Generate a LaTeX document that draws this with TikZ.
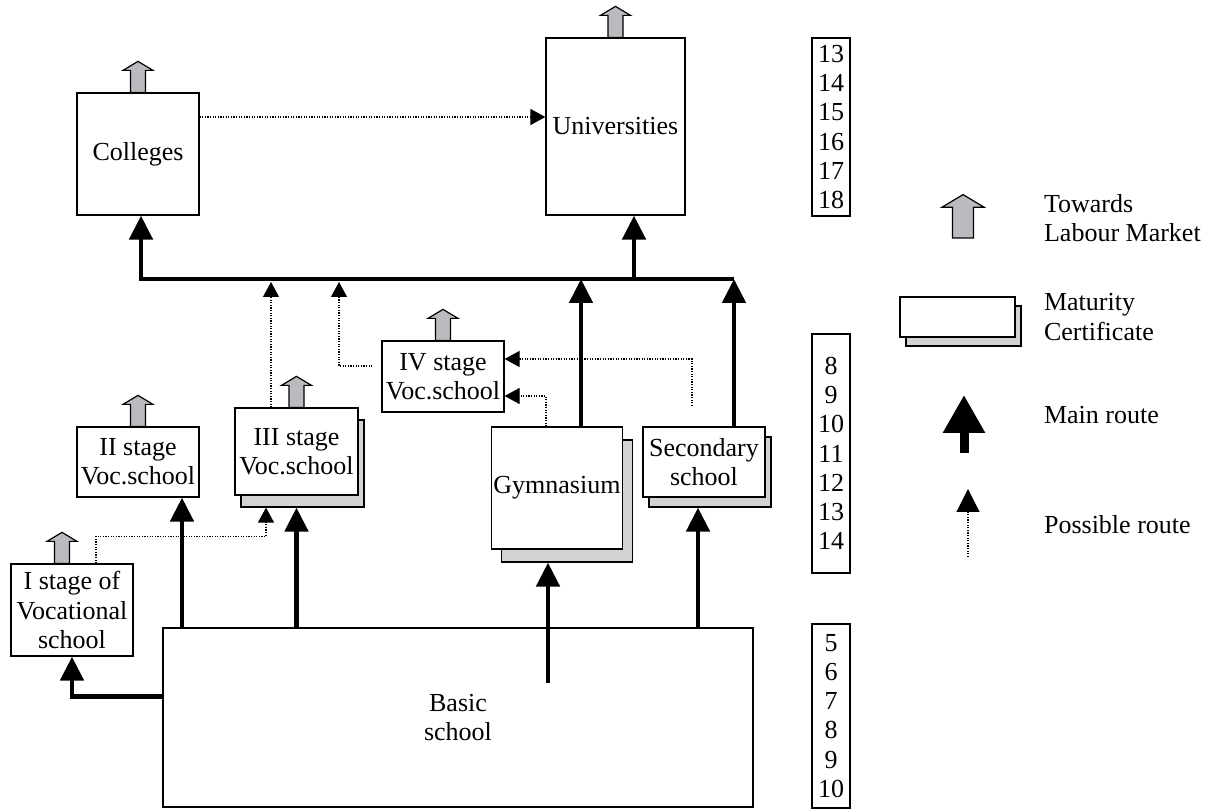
\documentclass[tikz,border=0pt]{standalone}
\usepackage{fontspec}
\setmainfont{Liberation Serif}
\usepackage{tikz}
\usetikzlibrary{calc,positioning,arrows.meta,shadows}

\definecolor{marketgrey}{HTML}{B9BBBE}
\definecolor{certgrey}{HTML}{D1D3D4}

\tikzset{
  market/.pic={
    \draw[fill=marketgrey, line width=0.6pt] (-7.5,0) -- (-7.5,-22) -- (-15,-22) -- (0,-31)
      -- (15,-22) -- (7.5,-22) -- (7.5,0) -- cycle;
  }
}

\begin{document}
\begin{tikzpicture}[x=0.5pt, y=-0.5pt,
    every node/.style={font=\fontsize{13}{14.6}\selectfont, align=center},
    box/.style={draw, fill=white, line width=0.6pt, inner sep=1pt, minimum width=61pt},
    cert/.style={copy shadow={shadow xshift=3pt, shadow yshift=-6pt, fill=certgrey, draw=black, line width=0.6pt, #1}},
    cert/.default={},
    main/.style={line width=2.4pt, -{Triangle[length=12pt,width=11.5pt]}},
    possible/.style={line width=0.6pt, dash pattern=on 0.6pt off 0.7pt, -{Triangle[length=7.5pt,width=8pt]}},
    ages/.style={draw, line width=1pt, minimum width=19pt, inner sep=0pt}]
    \useasboundingbox (0,0) rectangle (1227,812);

    % schools
    \node[box, minimum height=61pt] (col) at (138,154) {Colleges};
    \node[box, minimum width=69.5pt, minimum height=88.5pt] (uni) at (615.5,126.5) {Universities};
    \node[box, minimum height=35.5pt] (iv) at (443,376.5) {IV stage\\Voc.school};
    \node[box, minimum height=35pt] (ii) at (138,462) {II stage\\Voc.school};
    \node[box, cert, minimum width=61.5pt, minimum height=43.5pt] (iii) at (296.5,451.5) {III stage\\Voc.school};
    \node[box, cert={shadow xshift=5pt, shadow yshift=-6.5pt}, minimum width=65pt, minimum height=61pt] (gym) at (557,488) {Gymnasium};
    \node[box, cert={shadow yshift=-5pt}, minimum height=35pt] (sec) at (704,462) {Secondary\\school};
    \node[box, minimum height=46pt] (i) at (72,610) {I stage of\\Vocational\\school};
    \node[box, minimum width=295pt, minimum height=89.5pt] (basic) at (458,717.5) {Basic\\school};

    % ages
    \node[ages, minimum height=89pt] (a1) at (831,127) {13\\14\\15\\16\\17\\18};
    \node[ages, minimum height=119.5pt] (a2) at (831,453.5) {8\\9\\10\\11\\12\\13\\14};
    \node[ages, minimum height=92pt] (a3) at (831,716) {5\\6\\7\\8\\9\\10};

    % towards labour market
    \pic at (col.north) {market};
    \pic at (uni.north) {market};
    \pic at (iv.north) {market};
    \pic at (ii.north) {market};
    \pic at (iii.north) {market};
    \pic at ($(i.north)+(-10,0)$) {market};

    % main routes
    \coordinate (barL) at (141,279);
    \coordinate (barR) at (734,279);
    \coordinate (barB) at (141,282);
    \draw[main] (barR) -- (barL) -- (barL |- col.south);
    \draw[main] (barR -| 634,0) -- (uni.south -| 634,0);
    \draw[main] (gym.north -| 581,0) -- (barR -| 581,0);
    \draw[main] (sec.north -| barR) -- (barR);
    \draw[main] (basic.north -| 182,0) -- (ii.south -| 182,0);
    \draw[main] (basic.north -| iii.south) -- ([yshift=-6pt]iii.south);
    \draw[main] ([xshift=-4.5pt,yshift=-66.5pt]gym.south) -- ([xshift=-4.5pt,yshift=-6.5pt]gym.south);
    \draw[main] (basic.north -| 698,0) -- ([xshift=-3pt,yshift=-5pt]sec.south);
    \draw[main] ([yshift=10.5pt]basic.west) -| (i.south);

    % possible routes
    \draw[possible] ([yshift=18.5pt]col.east) -- ([yshift=4.75pt]uni.west);
    \draw[possible] (iii.north -| 271,0) -- (barB -| 271,0);
    \draw[possible, shorten <=4.5pt] ([yshift=5.25pt]iv.west) -| (barB -| 339,0);
    \draw[possible] (i.north -| 96,0) -- ++(0,-27) -| ([xshift=-15.25pt,yshift=-6pt]iii.south);
    \draw[possible] ([xshift=-5.5pt]gym.north) |- ([yshift=-9.75pt]iv.east);
    \coordinate (secdot) at (692,406);
    \draw[possible] (secdot) |- ([yshift=8.75pt]iv.east);

    % legend
    \pic[scale=1.4] at (963,238) {market};
    \node[anchor=west, align=left] (lgmarket) at (1037,218) {Towards\\Labour Market};
    \node[box, cert={shadow yshift=-4.5pt}, minimum width=57.5pt, minimum height=20pt] (lgbox) at (957.5,317) {};
    \node[anchor=west, align=left] (lgcert) at (1037,317) {Maturity\\Certificate};
    \coordinate (mainB) at (964,453);
    \coordinate (mainT) at (964,395);
    \draw[line width=4.5pt, -{Triangle[length=19pt,width=20pt]}] (mainB) -- (mainT);
    \node[anchor=west] (lgmain) at (1037,415) {Main route};
    \coordinate (possB) at (968,557);
    \coordinate (possT) at (968,489);
    \draw[possible, -{Triangle[length=11.5pt,width=11.5pt]}] (possB) -- (possT);
    \node[anchor=west] (lgposs) at (1037,525) {Possible route};
\end{tikzpicture}
\end{document}
